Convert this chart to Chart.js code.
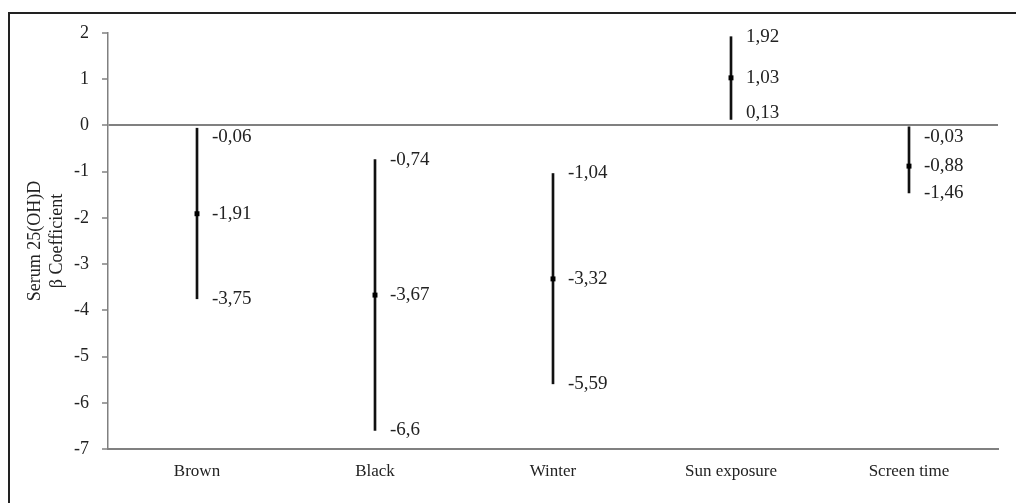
<!DOCTYPE html>
<html>
<head>
<meta charset="utf-8">
<script src="https://cdn.jsdelivr.net/npm/chart.js@4/dist/chart.umd.min.js"></script>
<style>
  html, body { margin: 0; padding: 0; background: #fff; }
  #wrap { position: relative; width: 1016px; height: 503px; overflow: hidden; }
  #frame { position: absolute; left: 8px; top: 12px; width: 1100px; height: 600px; border: 2px solid #222; box-sizing: border-box; }
  #box { position: absolute; left: 0; top: 0; width: 1016px; height: 503px; }
</style>
</head>
<body>
<div id="wrap">
  <div id="frame"></div>
  <div id="box"><canvas id="myChart"></canvas></div>
</div>
<script>
var categories = ['Brown', 'Black', 'Winter', 'Sun exposure', 'Screen time'];
var betaLow  = [-3.75, -6.6, -5.59, 0.13, -1.46];
var betaMid  = [-1.91, -3.67, -3.32, 1.03, -0.88];
var betaHigh = [-0.06, -0.74, -1.04, 1.92, -0.03];
var yTicks = [2, 1, 0, -1, -2, -3, -4, -5, -6, -7];

var serif = '"Liberation Serif", "Times New Roman", serif';

function fmt(v) {
  return String(v).replace('.', ',');
}

// writes low / mid / high next to each bar
var valueLabels = {
  id: 'valueLabels',
  afterDatasetsDraw: function(chart) {
    var ctx = chart.ctx;
    var y = chart.scales.y;
    var zero = y.getPixelForValue(0);
    var bars = chart.getDatasetMeta(0).data;
    ctx.save();
    ctx.font = '19px ' + serif;
    ctx.fillStyle = '#222';
    ctx.textAlign = 'left';
    ctx.textBaseline = 'middle';
    bars.forEach(function(bar, i) {
      [betaHigh[i], betaMid[i], betaLow[i]].forEach(function(v) {
        var py = y.getPixelForValue(v);
        if (Math.abs(py - zero) < 12) {
          py = v < 0 ? zero + 12 : zero - 12;
        }
        ctx.fillText(fmt(v), bar.x + 15, py);
      });
    });
    ctx.restore();
  }
};

var ctx = document.getElementById('myChart').getContext('2d');
var chart = new Chart(ctx, {
  type: 'bar',
  data: {
    labels: categories,
    datasets: [{
      type: 'bar',
      label: 'CI',
      data: categories.map(function(c, i) { return [betaLow[i], betaHigh[i]]; }),
      backgroundColor: '#111',
      borderWidth: 0,
      barThickness: 2,
      grouped: false,
      order: 2
    }, {
      type: 'line',
      label: 'Beta',
      data: betaMid,
      showLine: false,
      pointStyle: 'rect',
      pointRadius: 3.5,
      pointBackgroundColor: '#000',
      pointBorderWidth: 0,
      order: 1
    }]
  },
  options: {
    responsive: true,
    maintainAspectRatio: false,
    animation: false,
    layout: { padding: { top: 33, right: 18, bottom: 0, left: 24 } },
    plugins: {
      legend: { display: false },
      tooltip: { enabled: false }
    },
    scales: {
      x: {
        grid: { display: false },
        border: { display: true, color: '#808080', width: 2 },
        ticks: { color: '#222', font: { family: serif, size: 17 }, padding: 4, maxRotation: 0 },
        afterFit: function(scale) { scale.height = 54; }
      },
      y: {
        min: -7,
        max: 2,
        afterBuildTicks: function(scale) {
          scale.ticks = yTicks.map(function(v) { return { value: v }; });
        },
        grid: {
          drawOnChartArea: true,
          color: function(c) { return c.tick && c.tick.value === 0 ? '#808080' : 'rgba(0,0,0,0)'; },
          lineWidth: 2,
          tickColor: '#808080',
          tickLength: 6,
          tickWidth: 1.5
        },
        border: { display: true, color: '#808080', width: 1.5 },
        ticks: { color: '#222', font: { family: serif, size: 18 }, padding: 13 },
        title: {
          display: true,
          text: ['Serum 25(OH)D', 'β Coefficient'],
          color: '#222',
          font: { family: serif, size: 18, lineHeight: 1.25 },
          padding: { top: 0, bottom: 4 }
        },
        afterFit: function(scale) { scale.width = 84; }
      }
    }
  },
  plugins: [valueLabels]
});
</script>
</body>
</html>
